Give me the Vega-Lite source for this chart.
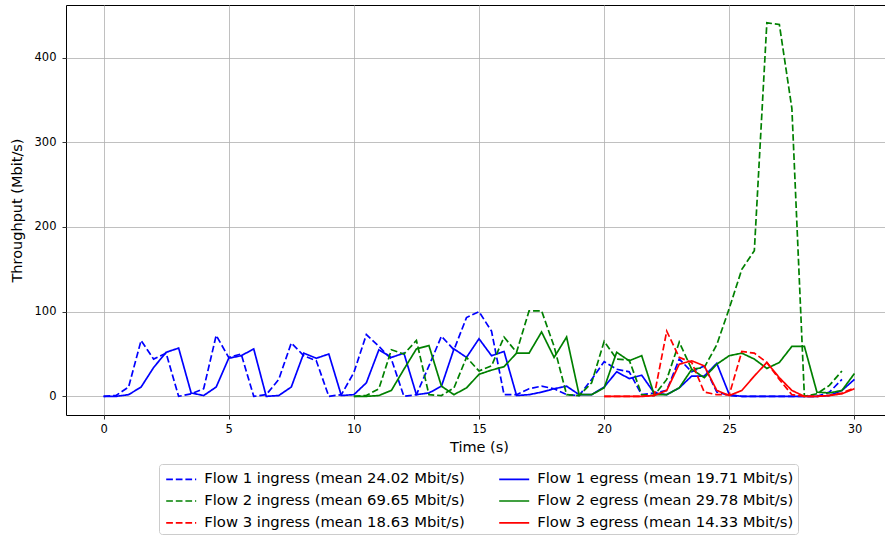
{
  "$schema": "https://vega.github.io/schema/vega-lite/v6.json",
  "autosize": {"type": "none"},
  "width": 826,
  "height": 410,
  "padding": {"left": 66, "top": 5, "right": 0, "bottom": 125},
  "background": "white",
  "config": {
    "font": "DejaVu Sans",
    "view": {"stroke": "black", "strokeWidth": 1},
    "axis": {
      "grid": true, "gridColor": "#b0b0b0", "gridWidth": 0.8,
      "domain": false, "tickColor": "black", "tickSize": 4, "tickWidth": 0.8,
      "labelFont": "DejaVu Sans", "labelFontSize": 11.5, "labelColor": "black",
      "titleFont": "DejaVu Sans", "titleFontSize": 14.5, "titleFontWeight": "normal", "titleColor": "black"
    }
  },
  "data": {"values": [
    {"s":"F1i","t":0,"v":0},{"s":"F1i","t":0.5,"v":1},{"s":"F1i","t":1,"v":11},{"s":"F1i","t":1.5,"v":66},{"s":"F1i","t":2,"v":44},{"s":"F1i","t":2.5,"v":51},{"s":"F1i","t":3,"v":0},{"s":"F1i","t":3.5,"v":3},{"s":"F1i","t":4,"v":9},{"s":"F1i","t":4.5,"v":72},{"s":"F1i","t":5,"v":46},{"s":"F1i","t":5.5,"v":50},{"s":"F1i","t":6,"v":0},{"s":"F1i","t":6.5,"v":2},{"s":"F1i","t":7,"v":20},{"s":"F1i","t":7.5,"v":63},{"s":"F1i","t":8,"v":48},{"s":"F1i","t":8.5,"v":42},{"s":"F1i","t":9,"v":0},{"s":"F1i","t":9.5,"v":2},{"s":"F1i","t":10,"v":28},{"s":"F1i","t":10.5,"v":73},{"s":"F1i","t":11,"v":59},{"s":"F1i","t":11.5,"v":44},{"s":"F1i","t":12,"v":0},{"s":"F1i","t":12.5,"v":2},{"s":"F1i","t":13,"v":36},{"s":"F1i","t":13.5,"v":71},{"s":"F1i","t":14,"v":55},{"s":"F1i","t":14.5,"v":93},{"s":"F1i","t":15,"v":100},{"s":"F1i","t":15.5,"v":77},{"s":"F1i","t":16,"v":2},{"s":"F1i","t":16.5,"v":2},{"s":"F1i","t":17,"v":9},{"s":"F1i","t":17.5,"v":12},{"s":"F1i","t":18,"v":9},{"s":"F1i","t":18.5,"v":2},{"s":"F1i","t":19,"v":1},{"s":"F1i","t":19.5,"v":20},{"s":"F1i","t":20,"v":41},{"s":"F1i","t":20.5,"v":32},{"s":"F1i","t":21,"v":29},{"s":"F1i","t":21.5,"v":2},{"s":"F1i","t":22,"v":4},{"s":"F1i","t":22.5,"v":7},{"s":"F1i","t":23,"v":44},{"s":"F1i","t":23.5,"v":29},{"s":"F1i","t":24,"v":36},{"s":"F1i","t":24.5,"v":5},{"s":"F1i","t":25,"v":1},{"s":"F1i","t":25.5,"v":0},{"s":"F1i","t":26,"v":0},{"s":"F1i","t":26.5,"v":0},{"s":"F1i","t":27,"v":0},{"s":"F1i","t":27.5,"v":0},{"s":"F1i","t":28,"v":0},{"s":"F1i","t":28.5,"v":0},{"s":"F1i","t":29,"v":5},{"s":"F1i","t":29.5,"v":20},
    {"s":"F1e","t":0,"v":0},{"s":"F1e","t":0.5,"v":0},{"s":"F1e","t":1,"v":2},{"s":"F1e","t":1.5,"v":11},{"s":"F1e","t":2,"v":34},{"s":"F1e","t":2.5,"v":52},{"s":"F1e","t":3,"v":57},{"s":"F1e","t":3.5,"v":4},{"s":"F1e","t":4,"v":1},{"s":"F1e","t":4.5,"v":11},{"s":"F1e","t":5,"v":45},{"s":"F1e","t":5.5,"v":48},{"s":"F1e","t":6,"v":56},{"s":"F1e","t":6.5,"v":0},{"s":"F1e","t":7,"v":1},{"s":"F1e","t":7.5,"v":11},{"s":"F1e","t":8,"v":51},{"s":"F1e","t":8.5,"v":45},{"s":"F1e","t":9,"v":50},{"s":"F1e","t":9.5,"v":1},{"s":"F1e","t":10,"v":2},{"s":"F1e","t":10.5,"v":16},{"s":"F1e","t":11,"v":55},{"s":"F1e","t":11.5,"v":46},{"s":"F1e","t":12,"v":51},{"s":"F1e","t":12.5,"v":2},{"s":"F1e","t":13,"v":4},{"s":"F1e","t":13.5,"v":12},{"s":"F1e","t":14,"v":56},{"s":"F1e","t":14.5,"v":46},{"s":"F1e","t":15,"v":68},{"s":"F1e","t":15.5,"v":48},{"s":"F1e","t":16,"v":53},{"s":"F1e","t":16.5,"v":1},{"s":"F1e","t":17,"v":2},{"s":"F1e","t":17.5,"v":5},{"s":"F1e","t":18,"v":9},{"s":"F1e","t":18.5,"v":12},{"s":"F1e","t":19,"v":2},{"s":"F1e","t":19.5,"v":2},{"s":"F1e","t":20,"v":11},{"s":"F1e","t":20.5,"v":29},{"s":"F1e","t":21,"v":21},{"s":"F1e","t":21.5,"v":25},{"s":"F1e","t":22,"v":4},{"s":"F1e","t":22.5,"v":2},{"s":"F1e","t":23,"v":10},{"s":"F1e","t":23.5,"v":24},{"s":"F1e","t":24,"v":24},{"s":"F1e","t":24.5,"v":39},{"s":"F1e","t":25,"v":2},{"s":"F1e","t":25.5,"v":0},{"s":"F1e","t":26,"v":0},{"s":"F1e","t":26.5,"v":0},{"s":"F1e","t":27,"v":0},{"s":"F1e","t":27.5,"v":0},{"s":"F1e","t":28,"v":0},{"s":"F1e","t":28.5,"v":0},{"s":"F1e","t":29,"v":1},{"s":"F1e","t":29.5,"v":7},{"s":"F1e","t":30,"v":20},
    {"s":"F2i","t":10,"v":0},{"s":"F2i","t":10.5,"v":1},{"s":"F2i","t":11,"v":9},{"s":"F2i","t":11.5,"v":55},{"s":"F2i","t":12,"v":50},{"s":"F2i","t":12.5,"v":66},{"s":"F2i","t":13,"v":2},{"s":"F2i","t":13.5,"v":1},{"s":"F2i","t":14,"v":10},{"s":"F2i","t":14.5,"v":46},{"s":"F2i","t":15,"v":30},{"s":"F2i","t":15.5,"v":36},{"s":"F2i","t":16,"v":70},{"s":"F2i","t":16.5,"v":52},{"s":"F2i","t":17,"v":101},{"s":"F2i","t":17.5,"v":101},{"s":"F2i","t":18,"v":59},{"s":"F2i","t":18.5,"v":2},{"s":"F2i","t":19,"v":1},{"s":"F2i","t":19.5,"v":16},{"s":"F2i","t":20,"v":65},{"s":"F2i","t":20.5,"v":44},{"s":"F2i","t":21,"v":43},{"s":"F2i","t":21.5,"v":2},{"s":"F2i","t":22,"v":1},{"s":"F2i","t":22.5,"v":20},{"s":"F2i","t":23,"v":64},{"s":"F2i","t":23.5,"v":32},{"s":"F2i","t":24,"v":34},{"s":"F2i","t":24.5,"v":61},{"s":"F2i","t":25,"v":104},{"s":"F2i","t":25.5,"v":150},{"s":"F2i","t":26,"v":172},{"s":"F2i","t":26.5,"v":441},{"s":"F2i","t":27,"v":439},{"s":"F2i","t":27.5,"v":340},{"s":"F2i","t":28,"v":0},{"s":"F2i","t":28.5,"v":3},{"s":"F2i","t":29,"v":13},{"s":"F2i","t":29.5,"v":30},
    {"s":"F2e","t":10,"v":0},{"s":"F2e","t":10.5,"v":0},{"s":"F2e","t":11,"v":1},{"s":"F2e","t":11.5,"v":7},{"s":"F2e","t":12,"v":32},{"s":"F2e","t":12.5,"v":56},{"s":"F2e","t":13,"v":60},{"s":"F2e","t":13.5,"v":12},{"s":"F2e","t":14,"v":2},{"s":"F2e","t":14.5,"v":10},{"s":"F2e","t":15,"v":26},{"s":"F2e","t":15.5,"v":31},{"s":"F2e","t":16,"v":35},{"s":"F2e","t":16.5,"v":51},{"s":"F2e","t":17,"v":51},{"s":"F2e","t":17.5,"v":76},{"s":"F2e","t":18,"v":46},{"s":"F2e","t":18.5,"v":70},{"s":"F2e","t":19,"v":2},{"s":"F2e","t":19.5,"v":2},{"s":"F2e","t":20,"v":10},{"s":"F2e","t":20.5,"v":52},{"s":"F2e","t":21,"v":42},{"s":"F2e","t":21.5,"v":48},{"s":"F2e","t":22,"v":2},{"s":"F2e","t":22.5,"v":2},{"s":"F2e","t":23,"v":10},{"s":"F2e","t":23.5,"v":32},{"s":"F2e","t":24,"v":22},{"s":"F2e","t":24.5,"v":38},{"s":"F2e","t":25,"v":48},{"s":"F2e","t":25.5,"v":51},{"s":"F2e","t":26,"v":44},{"s":"F2e","t":26.5,"v":33},{"s":"F2e","t":27,"v":40},{"s":"F2e","t":27.5,"v":59},{"s":"F2e","t":28,"v":59},{"s":"F2e","t":28.5,"v":5},{"s":"F2e","t":29,"v":4},{"s":"F2e","t":29.5,"v":7},{"s":"F2e","t":30,"v":27},
    {"s":"F3i","t":20,"v":0},{"s":"F3i","t":20.5,"v":0},{"s":"F3i","t":21,"v":0},{"s":"F3i","t":21.5,"v":0},{"s":"F3i","t":22,"v":1},{"s":"F3i","t":22.5,"v":77},{"s":"F3i","t":23,"v":46},{"s":"F3i","t":23.5,"v":40},{"s":"F3i","t":24,"v":5},{"s":"F3i","t":24.5,"v":2},{"s":"F3i","t":25,"v":2},{"s":"F3i","t":25.5,"v":53},{"s":"F3i","t":26,"v":51},{"s":"F3i","t":26.5,"v":40},{"s":"F3i","t":27,"v":20},{"s":"F3i","t":27.5,"v":2},{"s":"F3i","t":28,"v":0},{"s":"F3i","t":28.5,"v":0},{"s":"F3i","t":29,"v":1},{"s":"F3i","t":29.5,"v":4},{"s":"F3i","t":30,"v":10},
    {"s":"F3e","t":20,"v":0},{"s":"F3e","t":20.5,"v":0},{"s":"F3e","t":21,"v":0},{"s":"F3e","t":21.5,"v":0},{"s":"F3e","t":22,"v":1},{"s":"F3e","t":22.5,"v":7},{"s":"F3e","t":23,"v":38},{"s":"F3e","t":23.5,"v":42},{"s":"F3e","t":24,"v":36},{"s":"F3e","t":24.5,"v":7},{"s":"F3e","t":25,"v":1},{"s":"F3e","t":25.5,"v":7},{"s":"F3e","t":26,"v":24},{"s":"F3e","t":26.5,"v":40},{"s":"F3e","t":27,"v":22},{"s":"F3e","t":27.5,"v":7},{"s":"F3e","t":28,"v":0},{"s":"F3e","t":28.5,"v":0},{"s":"F3e","t":29,"v":1},{"s":"F3e","t":29.5,"v":3},{"s":"F3e","t":30,"v":9}
  ]},
  "transform": [
    {"lookup": "s", "from": {"data": {"values": [
      {"s":"F1i","label":"Flow 1 ingress (mean 24.02 Mbit/s)"},
      {"s":"F1e","label":"Flow 1 egress (mean 19.71 Mbit/s)"},
      {"s":"F2i","label":"Flow 2 ingress (mean 69.65 Mbit/s)"},
      {"s":"F2e","label":"Flow 2 egress (mean 29.78 Mbit/s)"},
      {"s":"F3i","label":"Flow 3 ingress (mean 18.63 Mbit/s)"},
      {"s":"F3e","label":"Flow 3 egress (mean 14.33 Mbit/s)"}
    ]}, "key": "s", "fields": ["label"]}}
  ],
  "mark": {"type": "line", "strokeWidth": 1.7},
  "encoding": {
    "x": {"field": "t", "type": "quantitative", "title": "Time (s)",
      "scale": {"domain": [-1.5, 31.5], "nice": false, "zero": false},
      "axis": {"values": [0, 5, 10, 15, 20, 25, 30], "labelPadding": 4, "titlePadding": 6}},
    "y": {"field": "v", "type": "quantitative", "title": "Throughput (Mbit/s)",
      "scale": {"domain": [-22, 462], "nice": false, "zero": false},
      "axis": {"values": [0, 100, 200, 300, 400], "labelPadding": 6, "titlePadding": 10}},
    "color": {"field": "label", "type": "nominal",
      "scale": {
        "domain": ["Flow 1 ingress (mean 24.02 Mbit/s)", "Flow 2 ingress (mean 69.65 Mbit/s)", "Flow 3 ingress (mean 18.63 Mbit/s)", "Flow 1 egress (mean 19.71 Mbit/s)", "Flow 2 egress (mean 29.78 Mbit/s)", "Flow 3 egress (mean 14.33 Mbit/s)"],
        "range": ["#0000ff", "#008000", "#ff0000", "#0000ff", "#008000", "#ff0000"]},
      "legend": {"title": null, "orient": "none", "legendX": 93, "legendY": 459, "columns": 2,
        "symbolType": "M-1.5,0H1.5", "symbolSize": 400, "symbolStrokeWidth": 1.7,
        "labelFont": "DejaVu Sans", "labelFontSize": 14.8, "labelColor": "black", "labelLimit": 400,
        "strokeColor": "#cccccc", "fillColor": "white", "cornerRadius": 3, "padding": 4.2,
        "rowPadding": 3.8, "columnPadding": 30, "symbolOffset": 7, "labelOffset": 12}},
    "strokeDash": {"field": "label", "type": "nominal",
      "scale": {
        "domain": ["Flow 1 ingress (mean 24.02 Mbit/s)", "Flow 2 ingress (mean 69.65 Mbit/s)", "Flow 3 ingress (mean 18.63 Mbit/s)", "Flow 1 egress (mean 19.71 Mbit/s)", "Flow 2 egress (mean 29.78 Mbit/s)", "Flow 3 egress (mean 14.33 Mbit/s)"],
        "range": [[6.7, 2.9], [6.7, 2.9], [6.7, 2.9], [1, 0], [1, 0], [1, 0]]},
      "legend": {"title": null}}
  }
}
